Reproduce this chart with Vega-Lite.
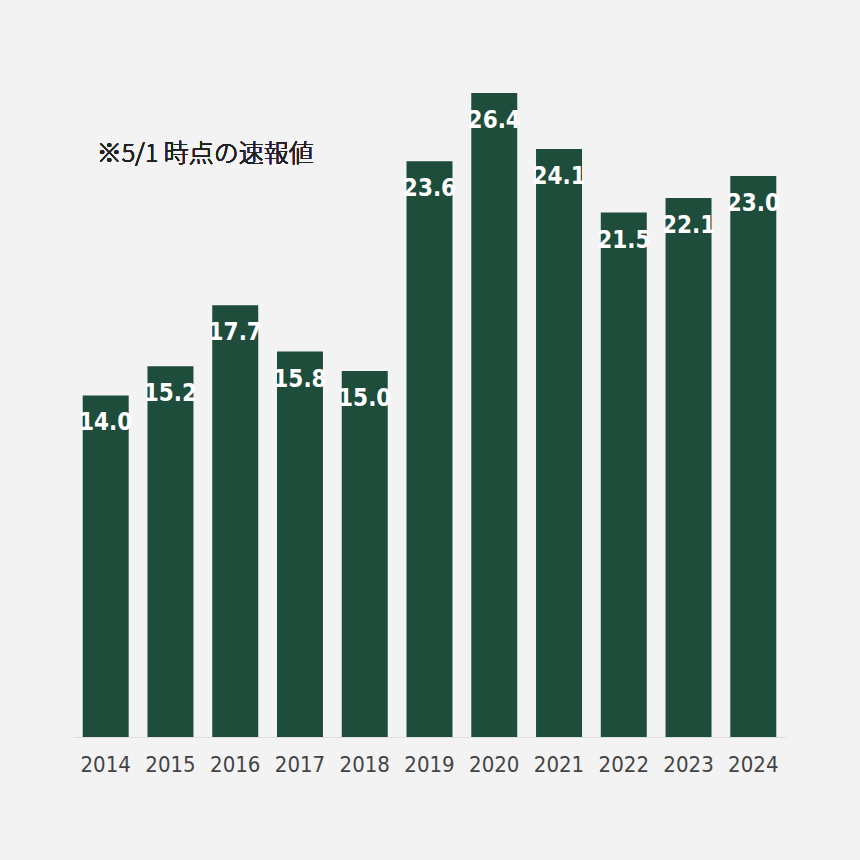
{
  "$schema": "https://vega.github.io/schema/vega-lite/v6.json",
  "autosize": {"type": "none"},
  "padding": {"left": 73, "top": 93, "right": 74, "bottom": 123},
  "width": 713,
  "height": 644,
  "background": "#f3f3f3",
  "config": {"view": {"stroke": null}},
  "data": {
    "values": [
      {"year": "2014", "value": 14.0},
      {"year": "2015", "value": 15.2},
      {"year": "2016", "value": 17.7},
      {"year": "2017", "value": 15.8},
      {"year": "2018", "value": 15.0},
      {"year": "2019", "value": 23.6},
      {"year": "2020", "value": 26.4},
      {"year": "2021", "value": 24.1},
      {"year": "2022", "value": 21.5},
      {"year": "2023", "value": 22.1},
      {"year": "2024", "value": 23.0}
    ]
  },
  "encoding": {
    "x": {
      "field": "year",
      "type": "nominal",
      "sort": null,
      "title": null,
      "scale": {"paddingInner": 0.29, "paddingOuter": 0.15},
      "axis": {
        "labelAngle": 0,
        "labelFont": "DejaVu Sans Condensed",
        "labelFontSize": 22,
        "labelColor": "#444444",
        "labelPadding": 17,
        "ticks": false,
        "domainColor": "#dddddd",
        "domainWidth": 1
      }
    },
    "y": {
      "field": "value",
      "type": "quantitative",
      "scale": {"domain": [0, 26.4], "nice": false},
      "axis": null
    }
  },
  "layer": [
    {"mark": {"type": "bar", "color": "#1f4d3c"}},
    {
      "mark": {
        "type": "text",
        "color": "#ffffff",
        "font": "DejaVu Sans Condensed",
        "fontWeight": "bold",
        "fontSize": 24,
        "baseline": "alphabetic",
        "dy": 35
      },
      "encoding": {"text": {"field": "value", "type": "quantitative", "format": ".1f"}}
    },
    {
      "mark": {
        "type": "text",
        "text": "※5/1 時点の速報値",
        "font": "Noto Sans CJK JP",
        "fontWeight": 200,
        "fontSize": 25,
        "color": "#222222",
        "align": "left",
        "baseline": "alphabetic",
        "dx": -9,
        "dy": 1
      },
      "encoding": {
        "x": {"datum": "2014"},
        "y": {"datum": 23.6}
      }
    }
  ]
}
